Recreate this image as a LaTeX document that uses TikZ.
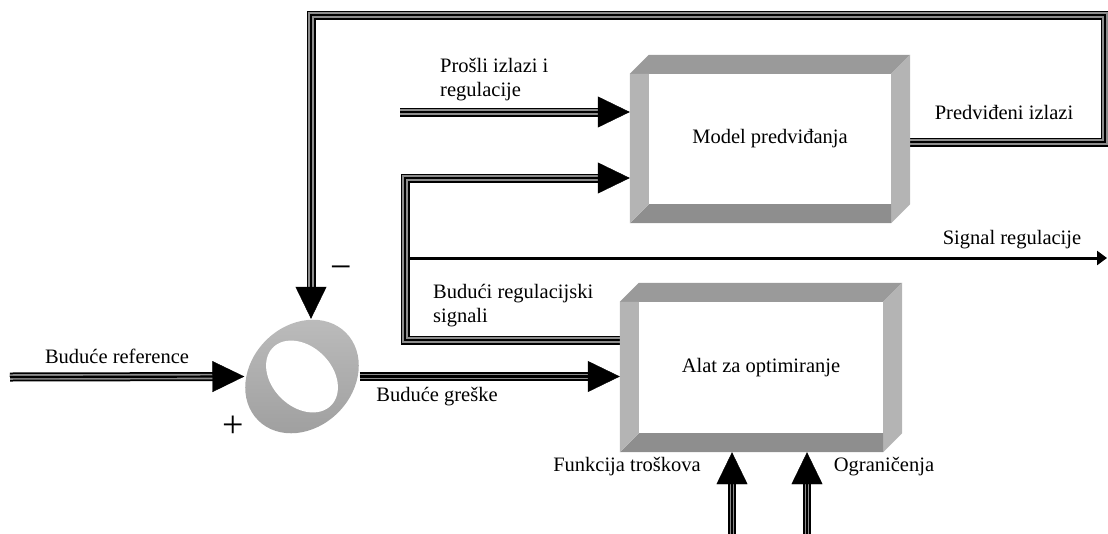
\documentclass[tikz,border=0pt]{standalone}
\usepackage{fontspec}
\setmainfont{Liberation Serif}
\usetikzlibrary{arrows.meta,calc}
\definecolor{bandlight}{HTML}{B4B4B4}
\definecolor{bandtop}{HTML}{9A9A9A}
\definecolor{bandbot}{HTML}{8E8E8E}
\definecolor{stripe}{HTML}{8C8C8C}
\tikzset{
  triple/.style={line width=9pt, draw=black, line join=miter,
    postaction={draw=stripe, line width=5.5pt},
    postaction={draw=black, line width=2.2pt}},
  thintriple/.style={line width=8pt, draw=black, line join=miter,
    postaction={draw=stripe, line width=4.8pt},
    postaction={draw=black, line width=1.8pt}},
  bighead/.style={line width=0.4pt, -{Triangle[length=32pt,width=31pt]}},
  lbl/.style={font=\fontsize{20.5}{24}\selectfont, inner sep=0pt},
  signlbl/.style={font=\fontsize{38}{38}\selectfont, inner sep=0pt},
  boxnode/.style={lbl, rectangle, fill=white},
}
\newcommand{\bevelbox}[1]{%
  \fill[bandtop] ($(#1.north west)+(0,19)$) -- ($(#1.north west)+(19,0)$) -- (#1.north east) -- ($(#1.north east)+(-19,19)$) -- cycle;
  \fill[bandlight] ($(#1.north east)+(-19,19)$) -- (#1.north east) -- ($(#1.south east)+(0,-19)$) -- ($(#1.south east)+(-19,0)$) -- cycle;
  \fill[bandbot] (#1.south west) -- ($(#1.south west)+(19,-19)$) -- ($(#1.south east)+(-19,-19)$) -- ($(#1.south east)+(-19,0)$) -- cycle;
  \fill[bandlight] ($(#1.north west)+(0,19)$) -- ($(#1.north west)+(19,19)$) -- ($(#1.south west)+(19,-19)$) -- (#1.south west) -- cycle;
}
\begin{document}
\begin{tikzpicture}[x=1pt,y=-1pt]
\useasboundingbox (0,0) rectangle (1108,533);

% boxes
\node[boxnode, minimum width=280pt, minimum height=168pt] (model) at (770,139) {Model predviđanja};
\node[boxnode, minimum width=282pt, minimum height=169pt] (opt) at (761,367.5) {Alat za optimiranje};
\node[circle, minimum size=115pt, inner sep=0pt] (sum) at (302,376.5) {};

% coordinates
\coordinate (refin) at (10,377);
\coordinate (regout) at (405,340);
\coordinate (regtop) at (405,178);
\coordinate (sigstart) at (409,258);
\coordinate (sigend) at (1107,258);
\coordinate (pastin) at (400,112);
\coordinate (fbright) at (1105,142);
\coordinate (fbtr) at (1105,15);
\coordinate (fbtl) at (311,15);
\coordinate (costin) at (732,540);
\coordinate (limin) at (807,540);

% connectors
\draw[triple, shorten >=20pt] (refin) -- (sum.west);
\draw[bighead] (refin) -- (sum.west);

\draw[triple, shorten >=20pt] (sum.east) -- (opt.west |- sum.east);
\draw[bighead] (sum.east) -- (opt.west |- sum.east);

\draw[triple, shorten >=20pt] (opt.west |- regout) -- (regout) -- (regtop) -- (model.west |- regtop);
\draw[bighead] (regtop) -- (model.west |- regtop);

\draw[line width=3pt, -{Triangle[length=10pt,width=14pt]}] (sigstart) -- (sigend);

\draw[triple, shorten >=20pt] (pastin) -- (model.west |- pastin);
\draw[bighead] (pastin) -- (model.west |- pastin);

\draw[triple, shorten >=20pt] (model.east |- fbright) -- (fbright) -- (fbtr) -- (fbtl) -- (fbtl |- sum.north);
\draw[bighead] (fbtl) -- (fbtl |- sum.north);

\draw[thintriple, shorten >=20pt] (costin) -- (costin |- opt.south);
\draw[bighead] (costin) -- (costin |- opt.south);
\draw[thintriple, shorten >=20pt] (limin) -- (limin |- opt.south);
\draw[bighead] (limin) -- (limin |- opt.south);

% bevels
\bevelbox{model}
\bevelbox{opt}

% ring
\shade[rotate around={45:(sum.center)}, top color=black!26, bottom color=black!38]
  (sum.center) ellipse [x radius=62, y radius=51];
\fill[white, rotate around={-45:(sum.center)}]
  (sum.center) ellipse [x radius=41, y radius=30];

% labels
\node[lbl] (tref) at (117,356) {Buduće reference};
\node[lbl] (terr) at (437,397) {Buduće greške};
\node[lbl, align=left, anchor=west] (tpast) at (440,80) {Prošli izlazi i\\regulacije};
\node[lbl, align=left, anchor=west] (tfut) at (433,306) {Budući regulacijski\\signali};
\node[lbl] (tpred) at (1004,112) {Predviđeni izlazi};
\node[lbl] (tsig) at (1012,240) {Signal regulacije};
\node[lbl] (tcost) at (627,467) {Funkcija troškova};
\node[lbl] (tlim) at (884,467) {Ograničenja};
\node[signlbl] (tplus) at (233,427) {+};
\node[signlbl] (tminus) at (341,273) {−};
\end{tikzpicture}
\end{document}
